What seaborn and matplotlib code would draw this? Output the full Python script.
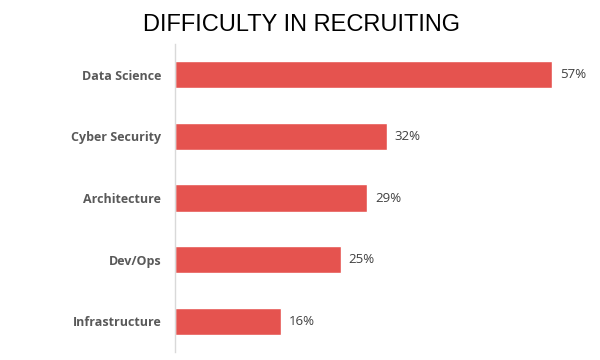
import pandas as pd
import matplotlib.pyplot as plt
import seaborn as sns

# Chart data
categories = ['Data Science', 'Cyber Security', 'Architecture', 'Dev/Ops', 'Infrastructure']
values = [57, 32, 29, 25, 16]

df = pd.DataFrame({'Role': categories, 'Pct': values})

sns.set_style('white')
plt.rcParams['font.family'] = ['Open Sans', 'DejaVu Sans']

fig = plt.figure(figsize=(6, 3.6), dpi=100)
ax = fig.add_axes([0.2917, 0.022, 0.662, 0.856])

sns.barplot(data=df, x='Pct', y='Role', color='#E5534F', width=0.44,
            saturation=1, ax=ax)

for p, v in zip(ax.patches, values):
    ax.text(p.get_width() + 1.2, p.get_y() + p.get_height() / 2, f'{v}%',
            va='center', ha='left', fontsize=9.5, color='#404040')

ax.set_xlim(0, 60)
ax.set_ylim(4.5, -0.5)
ax.set_xlabel('')
ax.set_ylabel('')
ax.set_xticks([])
for s in ['top', 'right', 'bottom']:
    ax.spines[s].set_visible(False)
ax.spines['left'].set_color('#D9D9D9')
ax.spines['left'].set_linewidth(1)
ax.tick_params(axis='y', length=0, pad=10)
for lbl in ax.get_yticklabels():
    lbl.set_fontsize(9)
    lbl.set_fontweight('bold')
    lbl.set_color('#595959')

fig.text(0.502, 0.93, 'DIFFICULTY IN RECRUITING', ha='center', va='center',
         fontsize=17, family='Liberation Sans', color='#000000')

plt.savefig('out.png', dpi=100)
